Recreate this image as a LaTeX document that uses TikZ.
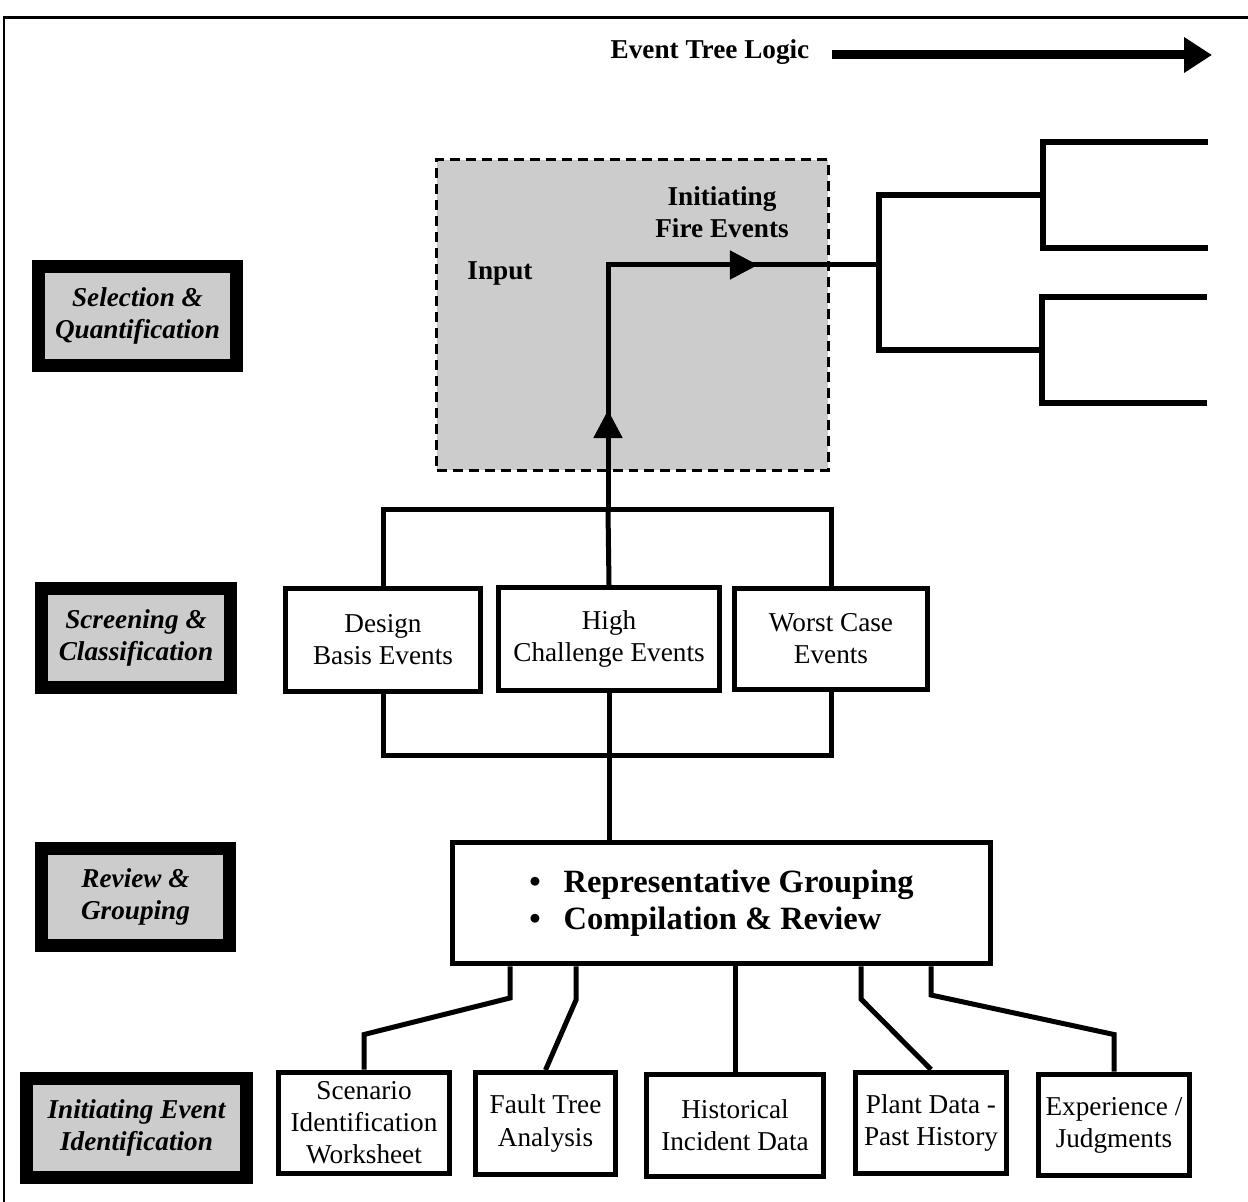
\documentclass[tikz,border=0pt]{standalone}
\usepackage{fontspec}
\setmainfont{Liberation Serif}
\usetikzlibrary{arrows.meta,calc,decorations.markings}
\definecolor{panelgray}{HTML}{CCCCCC}
\tikzset{flowtip/.tip={Triangle[length=0.56cm, width=0.56cm]}}

% one drawing unit is 0.02cm
\begin{document}
\begin{tikzpicture}[x=0.02cm, y=-0.02cm,
  stage/.style={draw=black, line width=0.26cm, fill=panelgray, inner sep=0pt,
    font=\fontsize{15.5}{18.6}\selectfont\bfseries\itshape, align=center},
  box/.style={draw=black, line width=0.1cm, fill=white, inner sep=0pt,
    font=\fontsize{15.5}{18.3}\selectfont, align=center},
  boldlab/.style={inner sep=0pt, font=\fontsize{15.5}{18}\selectfont\bfseries, align=center},
  conn/.style={line width=0.1cm, line join=miter},
  tree/.style={line width=0.12cm, line join=miter},
]
\useasboundingbox (0,0) rectangle (1248,1202);

% frame
\draw[line width=0.06cm] (4,1202) -- (4,18) -- (1248,18);

% event tree logic heading
\node[boldlab] (etl) at (710,52) {Event Tree Logic};
\coordinate (etlend) at (1212,55);
\draw[line width=0.18cm, -{Triangle[length=0.56cm, width=0.68cm]}]
  ($(etl.east)+(22,3)$) -- (etlend);

% stage labels
\node[stage, minimum width=3.96cm, minimum height=1.98cm] (sq) at (137.5,316) {Selection \&\\Quantification};
\node[stage, minimum width=3.78cm, minimum height=1.98cm] (sc) at (136,638) {Screening \&\\Classification};
\node[stage, minimum width=3.76cm, minimum height=1.94cm] (rg) at (135.5,897) {Review \&\\Grouping};
\node[stage, minimum width=4.4cm, minimum height=1.98cm] (ie) at (136.5,1128) {Initiating Event\\Identification};

% input region
\node[draw=black, dash pattern=on 0.2cm off 0.12cm, line width=0.06cm, fill=panelgray,
  minimum width=7.84cm, minimum height=6.22cm, inner sep=0pt] (inp) at (632.5,315) {};
\node[boldlab] (inlab) at (500,273) {Input};
\node[boldlab] (ife) at (722,212) {Initiating\\Fire Events};

% screening categories
\node[box, minimum width=3.9cm, minimum height=2.06cm] (dbe) at (383,640) {Design\\Basis Events};
\node[box, minimum width=4.42cm, minimum height=2.06cm] (hce) at (609,639) {High\\Challenge Events};
\node[box, minimum width=3.86cm, minimum height=2.04cm] (wce) at (831,639) {Worst Case\\Events};

% review and grouping
\node[box, minimum width=10.76cm, minimum height=2.44cm,
  font=\fontsize{18.5}{21}\selectfont\bfseries, align=left] (rev) at (721.5,903)
  {\textbullet\hspace{13pt}Representative Grouping\\\textbullet\hspace{13pt}Compilation \& Review};

% identification sources
\node[box, minimum width=3.44cm, minimum height=2.04cm] (scen) at (364,1123) {Scenario\\Identification\\Worksheet};
\node[box, minimum width=2.8cm, minimum height=2.04cm] (fault) at (545.5,1123.5) {Fault Tree\\Analysis};
\node[box, minimum width=3.56cm, minimum height=2.04cm] (hist) at (735,1125.5) {Historical\\Incident Data};
\node[box, minimum width=3.04cm, minimum height=2.04cm] (plant) at (931,1123) {Plant Data -\\Past History};
\node[box, minimum width=3.04cm, minimum height=2.04cm] (exper) at (1114,1125) {Experience /\\Judgments};

% sources into review box
\draw[conn] (rev.south -| 510,0) -- (510,998) -- ($(scen.north)+(0,-35)$) -- (scen.north);
\draw[conn] (rev.south -| 576,0) -- (576,1000) -- (fault.north);
\draw[conn] (hist.north |- rev.south) -- (hist.north);
\draw[conn] (rev.south -| 861,0) -- (861,999) -- (plant.north);
\draw[conn] (rev.south -| 931,0) -- (931,995) -- ($(exper.north)+(0,-37)$) -- (exper.north);

% review box up to screening categories
\coordinate (lbar) at (608,755);
\draw[conn] (dbe.south) |- (lbar) -| (wce.south);
\draw[conn] (hce.south) -- (hce.south |- rev.north);

% screening categories into the event tree
\coordinate (ubar) at (608,510);
\draw[conn] (dbe.north) |- (ubar) -| (wce.north);
\draw[conn] (hce.north) -- (ubar);
\coordinate (root) at (879,265);
\draw[conn, postaction={decorate}, decoration={markings,
    mark=at position 2cm with {\arrow{flowtip}},
    mark=at position 7.9cm with {\arrow{flowtip}}}]
  (ubar) |- (root);

% event tree branches
\coordinate (t1) at (1043,195);
\coordinate (t2) at (1042,350);
\draw[tree] (t1) -| (root |- 0,350) -- (t2);
\draw[tree] (1208,142) -| (t1) |- (1208,248);
\draw[tree] (1207,297) -| (t2) |- (1207,403);
\end{tikzpicture}
\end{document}
